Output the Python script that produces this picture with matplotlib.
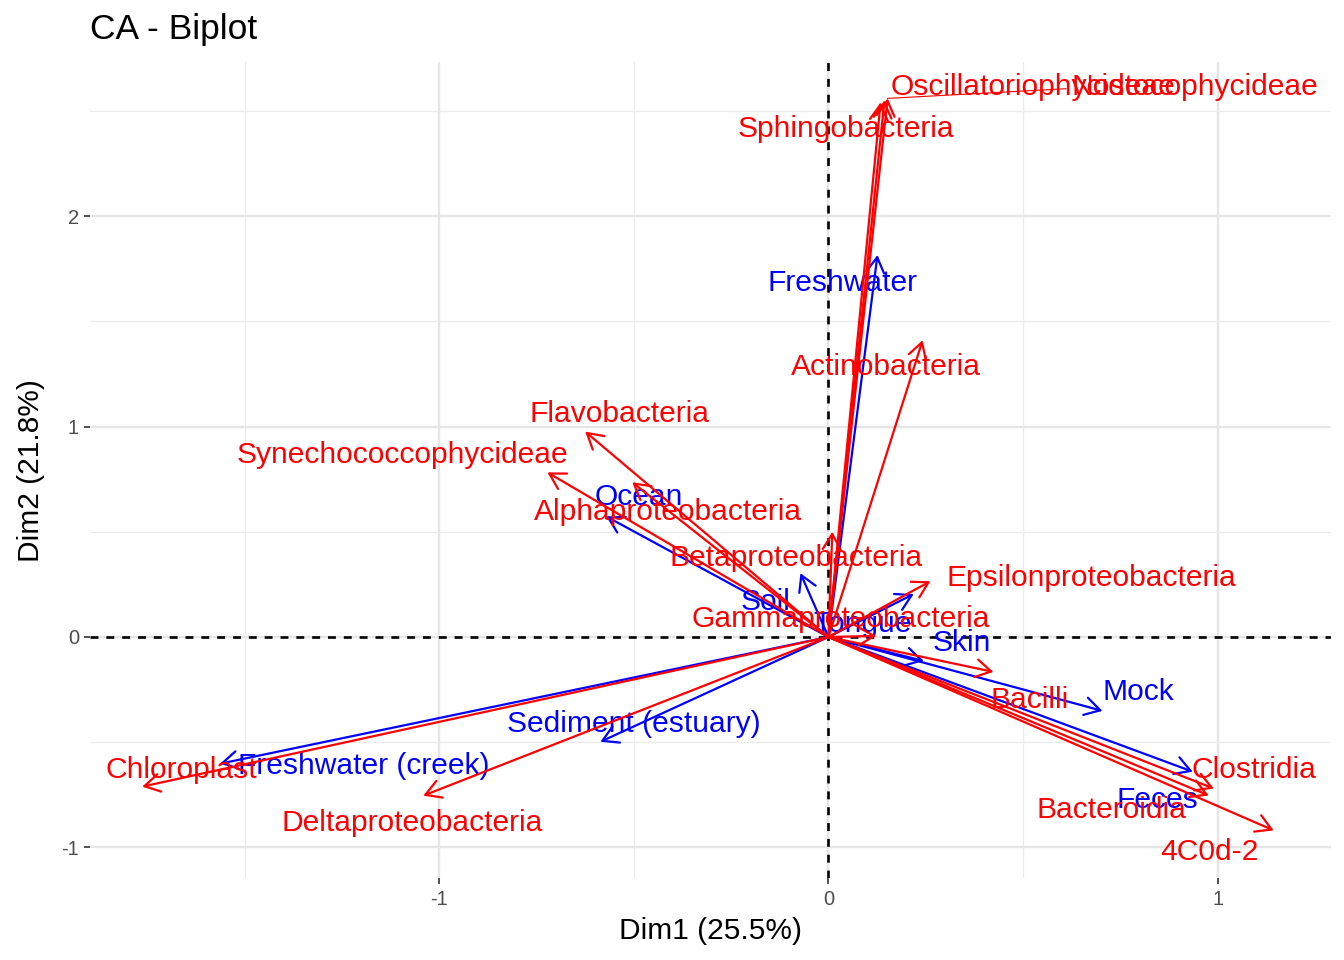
import numpy as np
import matplotlib
matplotlib.use('Agg')
import matplotlib.pyplot as plt

plt.rcParams['font.family'] = ['Liberation Sans', 'DejaVu Sans']

# Column points (blue): arrow tips and label positions
col_names = ['Freshwater', 'Ocean', 'Soil', 'Tongue', 'Skin', 'Mock', 'Feces',
             'Sediment (estuary)', 'Freshwater (creek)']
col_x = [0.126, -0.571, -0.072, 0.219, 0.245, 0.704, 0.936, -0.586, -1.563]
col_y = [1.815, 0.573, 0.303, 0.204, -0.114, -0.351, -0.640, -0.498, -0.602]
col_lab_x = [0.036, -0.486, -0.162, 0.087, 0.342, 0.797, 0.846, -0.499, -1.193]
col_lab_y = [1.697, 0.678, 0.180, 0.076, -0.014, -0.246, -0.758, -0.398, -0.597]

# Row points (red): arrow tips and label positions
row_names = ['Oscillatoriophycideae', 'Nostocophycideae', 'Sphingobacteria', 'Actinobacteria',
             'Flavobacteria', 'Synechococcophycideae', 'Alphaproteobacteria', 'Betaproteobacteria',
             'Epsilonproteobacteria', 'Gammaproteobacteria', 'Bacilli', 'Clostridia',
             'Bacteroidia', '4C0d-2', 'Chloroplast', 'Deltaproteobacteria']
row_x = [0.152, 0.144, 0.134, 0.242, -0.625, -0.722, -0.504, 0.010,
         0.262, 0.123, 0.424, 0.990, 0.977, 1.144, -1.763, -1.041]
row_y = [2.559, 2.550, 2.540, 1.410, 0.976, 0.782, 0.735, 0.500,
         0.265, 0.005, -0.166, -0.720, -0.753, -0.919, -0.711, -0.754]
row_lab_x = [0.525, 0.941, 0.046, 0.149, -0.537, -1.095, -0.411, -0.082,
             0.676, 0.031, 0.517, 1.093, 0.727, 0.979, -1.663, -1.069]
row_lab_y = [2.626, 2.626, 2.427, 1.300, 1.076, 0.880, 0.611, 0.389,
             0.294, 0.100, -0.284, -0.616, -0.806, -1.005, -0.616, -0.867]

fig = plt.figure(figsize=(13.44, 9.6), dpi=100)
ax = fig.add_axes([0.067, 0.085, 0.923, 0.85])

ax.set_xlim(-1.897, 1.29)
ax.set_ylim(-1.147, 2.73)

# grid like theme_minimal
ax.set_xticks([-1, 0, 1])
ax.set_yticks([-1, 0, 1, 2])
ax.set_xticks([-1.5, -0.5, 0.5], minor=True)
ax.set_yticks([-0.5, 0.5, 1.5, 2.5], minor=True)
ax.grid(True, which='major', color='#E6E6E6', linewidth=1.7)
ax.grid(True, which='minor', color='#EBEBEB', linewidth=0.9)
ax.set_axisbelow(True)
for s in ax.spines.values():
    s.set_visible(False)
ax.tick_params(which='major', length=4, width=1.2, color='#333333', labelsize=14.5,
               labelcolor='#4D4D4D', pad=4)
ax.tick_params(which='minor', length=0)
ax.set_xticklabels(['-1', '0', '1'])
ax.set_yticklabels(['-1', '0', '1', '2'])

ax.axhline(0, color='black', linestyle=(0, (3, 3)), linewidth=1.9, zorder=1)
ax.axvline(0, color='black', linestyle=(0, (3, 3)), linewidth=1.9, zorder=1)

arrow_style = '->,head_length=0.55,head_width=0.32'
dy = -0.015  # small nudge so text sits like ggplot's

# columns
for i in range(len(col_names)):
    ax.annotate('', xy=(col_x[i], col_y[i]), xytext=(0, 0),
                arrowprops=dict(arrowstyle=arrow_style, color='blue', lw=1.6,
                                mutation_scale=20, shrinkA=0, shrinkB=0), zorder=2)
for i in range(len(col_names)):
    ax.text(col_lab_x[i], col_lab_y[i] + dy, col_names[i], color='blue', fontsize=21.6,
            ha='center', va='center', zorder=3)

# rows
for i in range(len(row_names)):
    ax.annotate('', xy=(row_x[i], row_y[i]), xytext=(0, 0),
                arrowprops=dict(arrowstyle=arrow_style, color='red', lw=1.6,
                                mutation_scale=20, shrinkA=0, shrinkB=0), zorder=4)
for i in range(len(row_names)):
    ax.text(row_lab_x[i], row_lab_y[i] + dy, row_names[i], color='red', fontsize=21.6,
            ha='center', va='center', zorder=5)

# small leader line near the top labels
ax.plot([row_x[0], 0.61], [row_y[0], 2.605], color='red', linewidth=0.8, zorder=4)

ax.set_xlabel('Dim1 (25.5%)', fontsize=21.5, color='black', labelpad=6)
ax.set_ylabel('Dim2 (21.8%)', fontsize=21.5, color='black', labelpad=12)
fig.text(0.067, 0.969, 'CA - Biplot', fontsize=25.5, ha='left', va='center')

fig.savefig('out.png', dpi=100)
